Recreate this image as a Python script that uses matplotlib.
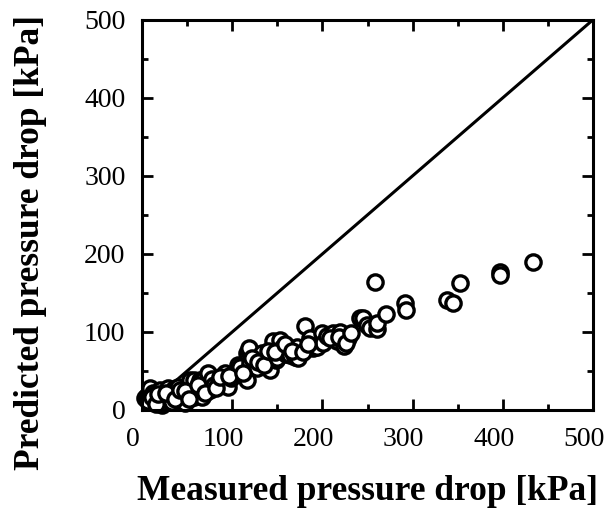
import matplotlib
matplotlib.use("Agg")
import matplotlib.pyplot as plt
import matplotlib.transforms as mtransforms
import numpy as np

# Measured vs. predicted pressure drop, kPa
measured = [3, 5, 9, 9, 12, 14, 17, 20, 22, 24, 26, 29, 31, 33, 35, 38, 40, 44, 44, 47,
            50, 53, 55, 57, 57, 60, 64, 66, 68, 72, 73, 75, 77, 80, 85, 90, 90, 92, 95, 99,
            103, 105, 106, 109, 116, 116, 118, 118, 120, 125, 127, 133, 133, 138, 142, 145,
            149, 150, 153, 155, 156, 160, 164, 170, 172, 173, 181, 186, 190, 194, 199, 199,
            201, 205, 212, 216, 220, 224, 228, 242, 245, 249, 253, 258, 260, 260, 271, 292,
            293, 338, 345, 353, 397, 397, 433,
            6, 11, 15, 18, 27, 36, 42, 48, 52, 62, 70, 82, 86, 96, 112, 122, 128, 135,
            140, 147, 158, 166, 178, 184, 208, 218, 226, 232]
predicted = [15, 18, 10, 28, 22, 19, 12, 25, 6, 20, 14, 28, 12, 10, 27, 18, 30, 19, 22, 9,
             30, 38, 20, 38, 17, 26, 38, 17, 38, 28, 47, 25, 40, 32, 36, 38, 35, 47, 30, 41,
             47, 49, 58, 55, 38, 73, 75, 79, 60, 55, 54, 70, 73, 65, 51, 88,
             64, 66, 90, 80, 79, 72, 70, 68, 81, 66, 107, 92, 80, 81, 88, 99,
             86, 95, 99, 88, 100, 82, 92, 118, 118, 109, 105, 164, 104, 111, 123, 137,
             128, 141, 137, 163, 177, 173, 190,
             12, 17, 8, 20, 22, 14, 26, 24, 14, 32, 22, 28, 42, 44, 48, 66, 62, 58,
             76, 74, 84, 76, 74, 84, 92, 94, 86, 98]

x_ticks = [0, 100, 200, 300, 400, 500]
y_ticks = [0, 100, 200, 300, 400, 500]
parity = [0, 500]

plt.rcParams["font.family"] = ["Liberation Serif", "DejaVu Serif"]

fig = plt.figure(figsize=(6.10, 5.08), dpi=100)
ax = fig.add_axes([0.233, 0.193, 0.739, 0.768])

ax.plot(parity, parity, color="black", lw=2.2, zorder=1)
ax.plot(measured, predicted, linestyle="none", marker="o", markersize=11,
        markerfacecolor="white", markeredgecolor="black", markeredgewidth=2.4,
        zorder=2, clip_on=False)

ax.set_xlim(0, 500)
ax.set_ylim(0, 500)
ax.set_xticks(x_ticks)
ax.set_yticks(y_ticks)
ax.set_xticks(np.arange(50, 500, 100), minor=True)
ax.set_yticks(np.arange(50, 500, 100), minor=True)

for s in ax.spines.values():
    s.set_linewidth(2.2)

ax.tick_params(which="both", direction="in", top=True, right=True, width=2.0)
ax.tick_params(which="major", length=8, labelsize=20)
ax.tick_params(which="minor", length=4.5)
ax.tick_params(axis="x", which="major", pad=12)
ax.tick_params(axis="y", which="major", pad=12)

# nudge the x tick labels slightly left so the last one stays inside the figure
shift = mtransforms.ScaledTranslation(-9 / 100, 0, fig.dpi_scale_trans)
for lbl in ax.get_xticklabels():
    lbl.set_transform(lbl.get_transform() + shift)

ax.set_xlabel("Measured pressure drop [kPa]", fontsize=25.5, fontweight="bold", labelpad=17)
ax.set_ylabel("Predicted pressure drop [kPa]", fontsize=25.5, fontweight="bold")
ax.yaxis.set_label_coords(-0.211, 0.43)

fig.savefig("out.png", dpi=100)
